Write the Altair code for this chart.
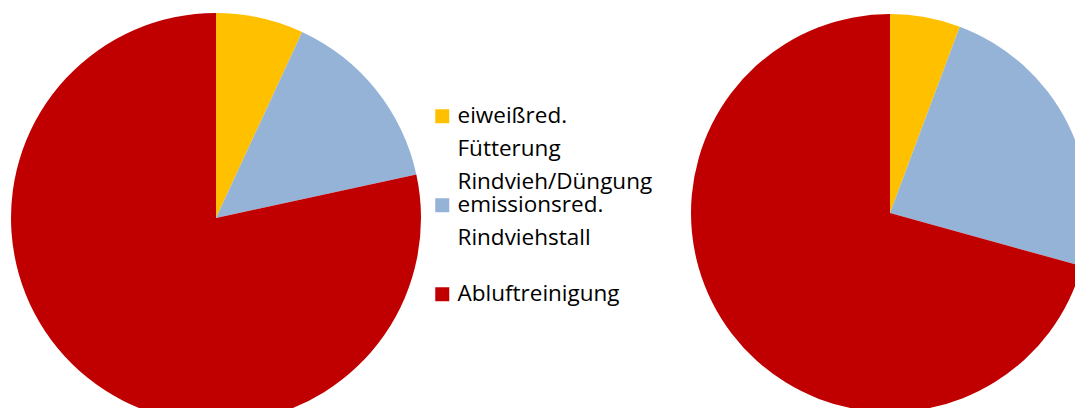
import altair as alt
import pandas as pd

# Kategorien (Legendenbeschriftung, Zeilenumbrüche wie im Original)
kategorien = [
    "eiweißred.\nFütterung\nRindvieh/Düngung",
    "emissionsred.\nRindviehstall",
    "Abluftreinigung",
]
farben = ["#FFC000", "#95B3D7", "#C00000"]

# Anteile in Prozent (aus dem Bild geschätzt)
anteile_links = [6.9, 14.7, 78.4]
anteile_rechts = [5.7, 23.6, 70.7]

df_links = pd.DataFrame({"kategorie": kategorien, "anteil": anteile_links, "ord": range(3)})
df_rechts = pd.DataFrame({"kategorie": kategorien, "anteil": anteile_rechts, "ord": range(3)})

color = alt.Color(
    "kategorie:N",
    scale=alt.Scale(domain=kategorien, range=farben),
    legend=alt.Legend(
        title=None,
        orient="none",
        legendX=423,
        legendY=97,
        padding=0,
        symbolType="square",
        symbolSize=196,
        symbolStrokeWidth=0,
        labelExpr="split(datum.label, '\\n')",
        labelFont="Open Sans",
        labelFontSize=22.5,
        labelColor="#000000",
        labelLimit=400,
        labelOffset=4,
        gridAlign="all",
        rowPadding=-2.5,
    ),
)

pie_links = alt.Chart(df_links).mark_arc(outerRadius=205).encode(
    theta=alt.Theta("anteil:Q", stack=True),
    color=color,
    order=alt.Order("ord:Q"),
    x=alt.value(208),
    y=alt.value(210),
)

pie_rechts = alt.Chart(df_rechts).mark_arc(outerRadius=199).encode(
    theta=alt.Theta("anteil:Q", stack=True),
    color=color,
    order=alt.Order("ord:Q"),
    x=alt.value(882),
    y=alt.value(205),
)

chart = (
    alt.layer(pie_links, pie_rechts)
    .properties(width=1067, height=400, padding=0,
                autosize=alt.AutoSizeParams(type="none"))
    .configure(style={"guide-label": {"lineHeight": 33}})
    .configure_view(stroke=None)
)

chart.save("out.html", embed_options={"renderer": "svg", "actions": False})
